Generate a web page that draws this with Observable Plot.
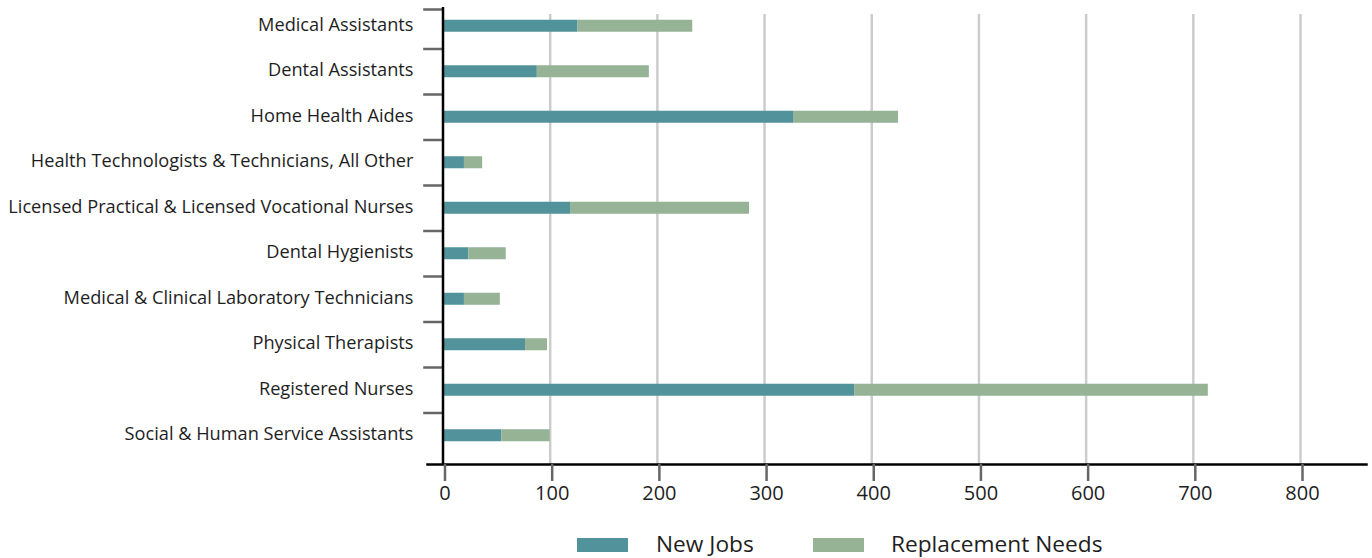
<!DOCTYPE html>
<html>
<head>
<meta charset="utf-8">
<script src="https://cdn.jsdelivr.net/npm/d3@7"></script>
<script src="https://cdn.jsdelivr.net/npm/@observablehq/plot@0.6"></script>
<style>
  html, body { margin: 0; padding: 0; background: #fff; }
  #wrap { position: relative; width: 1372px; height: 558px; font-family: "Open Sans", sans-serif; color: #1e1e1e; }
  #chart svg { display: block; }
  #legend { position: absolute; left: 0; top: 529px; width: 1372px; height: 30px; }
  .sw { position: absolute; top: 9px; width: 51px; height: 14px; }
  .lt { position: absolute; top: 0px; font-size: 22.7px; line-height: 30px; color: #1e1e1e; }
</style>
</head>
<body>
<div id="wrap">
  <div id="chart"></div>
  <div id="legend"></div>
</div>
<script>
const categories = [
  "Medical Assistants",
  "Dental Assistants",
  "Home Health Aides",
  "Health Technologists & Technicians, All Other",
  "Licensed Practical & Licensed Vocational Nurses",
  "Dental Hygienists",
  "Medical & Clinical Laboratory Technicians",
  "Physical Therapists",
  "Registered Nurses",
  "Social & Human Service Assistants"
];
const newJobs =          [126, 88, 327, 20, 119, 24, 20, 77, 384, 55];
const replacementNeeds = [107, 104.5, 98, 17, 167, 35, 33.5, 20.5, 330, 45];
const seriesNames = ["New Jobs", "Replacement Needs"];
const seriesColors = ["#52939B", "#97B396"];
const xTicks = [0, 100, 200, 300, 400, 500, 600, 700, 800];
const gridTicks = [100, 200, 300, 400, 500, 600, 700, 800];

const data = [];
categories.forEach((c, i) => {
  data.push({cat: c, series: seriesNames[0], value: newJobs[i]});
  data.push({cat: c, series: seriesNames[1], value: replacementNeeds[i]});
});

const W = 1372, H = 520;
const marginTop = 3, marginBottom = 56, insetBottom = 6;
const bandH = (H - marginBottom - insetBottom - marginTop) / categories.length;

const chart = Plot.plot({
  width: W,
  height: H,
  marginLeft: 427,
  marginRight: 6,
  marginTop,
  marginBottom,
  style: {fontFamily: "Open Sans, sans-serif", fontSize: "18px", color: "#1e1e1e", background: "#fff"},
  x: {domain: [0, 800], insetLeft: 15.5, insetRight: 66, axis: null},
  y: {domain: categories, paddingInner: 0, paddingOuter: 0, round: false, insetBottom, axis: null},
  color: {domain: seriesNames, range: seriesColors},
  marks: [
    Plot.ruleX(gridTicks, {stroke: "#cccccc", strokeWidth: 2.5, insetTop: 11}),
    Plot.barX(data, {y: "cat", x: "value", fill: "series", insetTop: (bandH - 12) / 2, insetBottom: (bandH - 12) / 2}),
    Plot.ruleY(categories.slice(1), {y: d => d, dy: -bandH / 2, x1: -18, x2: 0, stroke: "#666", strokeWidth: 2.5}),
    Plot.ruleY(categories.slice(0, 1), {y: d => d, dy: -bandH / 2 + 6, x1: -18, x2: 0, stroke: "#666", strokeWidth: 2.5}),
    Plot.ruleX([0], {stroke: "#000", strokeWidth: 2.5, insetTop: 4}),
    Plot.frame({anchor: "bottom", stroke: "#000", strokeWidth: 2.5}),
    Plot.axisY({tickSize: 0, tickPadding: 14, fill: "#1e1e1e", fontSize: 18.2, dy: -1.5, label: null}),
    Plot.axisX({ticks: xTicks, tickSize: 17, tickPadding: 4, stroke: "#666", strokeWidth: 2.5, fill: "#1e1e1e", fontSize: 20, dx: 2, label: null, tickFormat: d => String(d)})
  ]
});
document.getElementById("chart").appendChild(chart);

const legend = document.getElementById("legend");
const swX = [577, 813];
const txtX = [656, 891];
seriesNames.forEach((name, i) => {
  const sw = document.createElement("div");
  sw.className = "sw";
  sw.style.left = swX[i] + "px";
  sw.style.background = seriesColors[i];
  legend.appendChild(sw);
  const t = document.createElement("div");
  t.className = "lt";
  t.style.left = txtX[i] + "px";
  t.textContent = name;
  legend.appendChild(t);
});
</script>
</body>
</html>
